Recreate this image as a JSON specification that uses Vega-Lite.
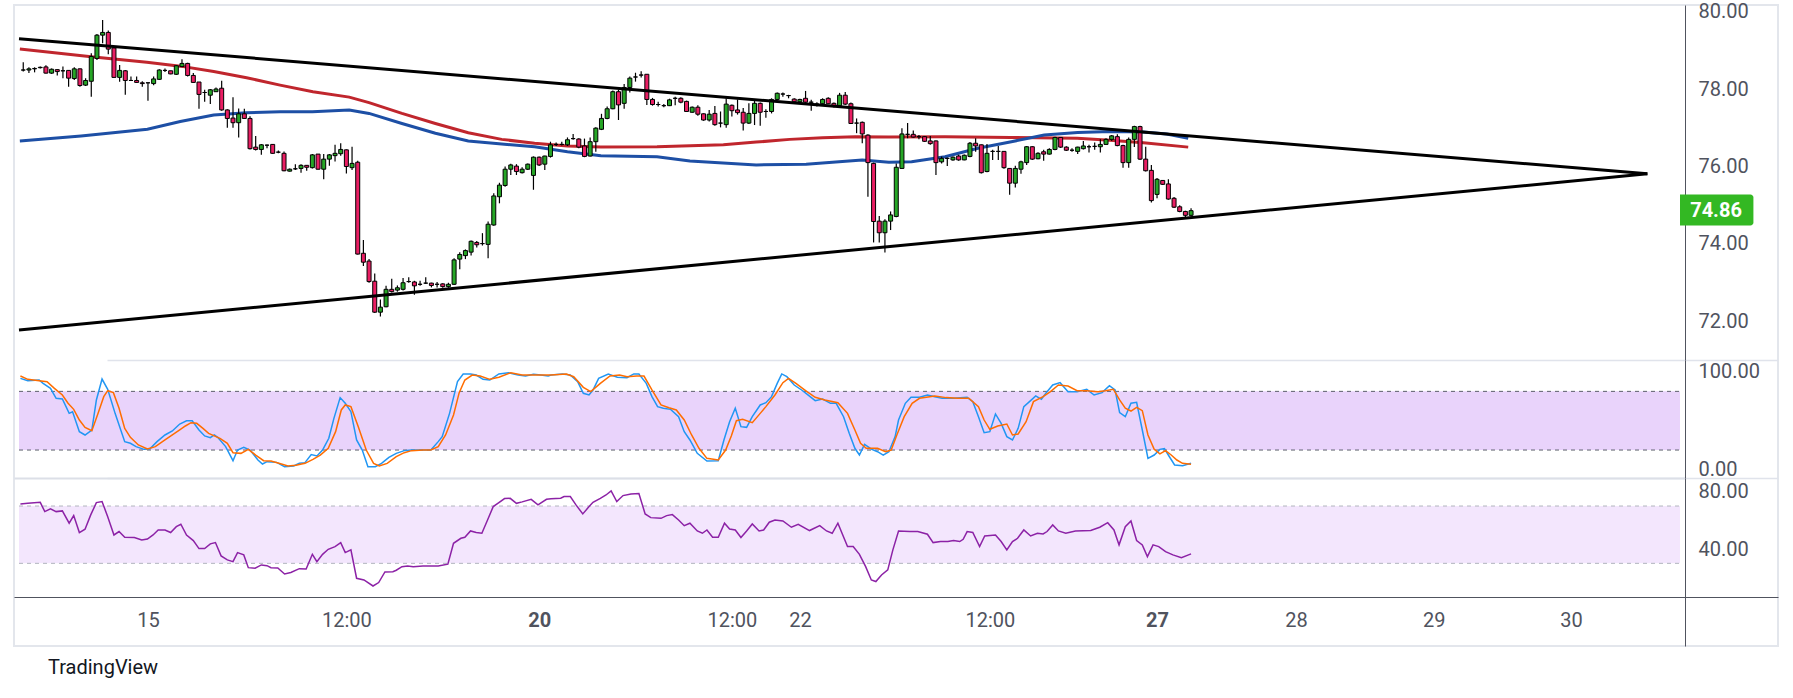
{
"$schema": "https://vega.github.io/schema/vega-lite/v6.json",
"width": 1764, "height": 641,
"autosize": {"type": "none"},
"padding": {"left": 14, "top": 5, "right": 15, "bottom": 52},
"background": "#ffffff",
"title": {"text": "TradingView", "orient": "bottom", "anchor": "start", "frame": "group", "offset": 12, "dx": 34, "font": "Roboto", "fontSize": 20, "fontWeight": "normal", "color": "#131722", "baseline": "top"},
"config": {"view": {"stroke": "#e3e6ec", "strokeWidth": 2}, "axis": {"labelFont": "Roboto", "labelFontSize": 20, "labelColor": "#50535e"}},
"datasets": {
"candles": [
{"i":0,"o":78.49,"h":78.69,"l":78.45,"c":78.49},{"i":1,"o":78.49,"h":78.56,"l":78.41,"c":78.52},{"i":2,"o":78.52,"h":78.56,"l":78.43,"c":78.53},{"i":3,"o":78.55,"h":78.58,"l":78.53,"c":78.56},{"i":4,"o":78.57,"h":78.61,"l":78.40,"c":78.41},{"i":5,"o":78.41,"h":78.53,"l":78.39,"c":78.51},{"i":6,"o":78.50,"h":78.51,"l":78.35,"c":78.45},{"i":7,"o":78.47,"h":78.58,"l":78.28,"c":78.47},{"i":8,"o":78.48,"h":78.48,"l":78.06,"c":78.28},{"i":9,"o":78.27,"h":78.56,"l":78.23,"c":78.52},
{"i":10,"o":78.52,"h":78.53,"l":78.06,"c":78.09},{"i":11,"o":78.10,"h":78.28,"l":78.08,"c":78.22},{"i":12,"o":78.20,"h":78.92,"l":77.80,"c":78.84},{"i":13,"o":78.79,"h":79.42,"l":78.75,"c":79.39},{"i":14,"o":79.39,"h":79.78,"l":79.18,"c":79.46},{"i":15,"o":79.46,"h":79.51,"l":78.90,"c":79.03},{"i":16,"o":79.06,"h":79.06,"l":78.29,"c":78.30},{"i":17,"o":78.30,"h":78.62,"l":78.19,"c":78.48},{"i":18,"o":78.47,"h":78.49,"l":77.85,"c":78.22},{"i":19,"o":78.22,"h":78.32,"l":78.21,"c":78.22},
{"i":20,"o":78.22,"h":78.32,"l":78.16,"c":78.17},{"i":21,"o":78.16,"h":78.20,"l":78.06,"c":78.14},{"i":22,"o":78.16,"h":78.16,"l":77.70,"c":78.16},{"i":23,"o":78.14,"h":78.32,"l":78.10,"c":78.26},{"i":24,"o":78.25,"h":78.51,"l":78.23,"c":78.49},{"i":25,"o":78.48,"h":78.53,"l":78.44,"c":78.48},{"i":26,"o":78.47,"h":78.47,"l":78.38,"c":78.39},{"i":27,"o":78.38,"h":78.62,"l":78.36,"c":78.60},{"i":28,"o":78.58,"h":78.77,"l":78.56,"c":78.66},{"i":29,"o":78.66,"h":78.68,"l":78.32,"c":78.35},
{"i":30,"o":78.35,"h":78.41,"l":78.16,"c":78.17},{"i":31,"o":78.18,"h":78.18,"l":77.49,"c":77.86},{"i":32,"o":77.91,"h":77.98,"l":77.67,"c":77.91},{"i":33,"o":77.84,"h":78.00,"l":77.61,"c":77.98},{"i":34,"o":77.93,"h":78.04,"l":77.92,"c":78.00},{"i":35,"o":78.02,"h":78.21,"l":77.44,"c":77.46},{"i":36,"o":77.46,"h":77.48,"l":77.00,"c":77.24},{"i":37,"o":77.25,"h":77.79,"l":77.00,"c":77.13},{"i":38,"o":77.13,"h":77.50,"l":76.75,"c":77.36},{"i":39,"o":77.36,"h":77.49,"l":77.23,"c":77.24},
{"i":40,"o":77.24,"h":77.30,"l":76.44,"c":76.46},{"i":41,"o":76.50,"h":76.79,"l":76.41,"c":76.44},{"i":42,"o":76.44,"h":76.58,"l":76.30,"c":76.56},{"i":43,"o":76.55,"h":76.57,"l":76.47,"c":76.55},{"i":44,"o":76.57,"h":76.58,"l":76.33,"c":76.34},{"i":45,"o":76.37,"h":76.41,"l":76.34,"c":76.37},{"i":46,"o":76.34,"h":76.39,"l":75.88,"c":75.89},{"i":47,"o":75.88,"h":75.95,"l":75.87,"c":75.93},{"i":48,"o":75.94,"h":76.06,"l":75.91,"c":75.94},{"i":49,"o":75.95,"h":76.06,"l":75.84,"c":76.03},
{"i":50,"o":76.03,"h":76.04,"l":75.89,"c":75.98},{"i":51,"o":75.97,"h":76.32,"l":75.95,"c":76.30},{"i":52,"o":76.32,"h":76.32,"l":75.92,"c":75.93},{"i":53,"o":75.93,"h":76.32,"l":75.67,"c":76.19},{"i":54,"o":76.19,"h":76.32,"l":76.02,"c":76.30},{"i":55,"o":76.28,"h":76.56,"l":76.13,"c":76.34},{"i":56,"o":76.33,"h":76.60,"l":76.28,"c":76.44},{"i":57,"o":76.43,"h":76.44,"l":75.82,"c":76.00},{"i":58,"o":75.97,"h":76.51,"l":75.91,"c":76.08},{"i":59,"o":76.11,"h":76.15,"l":73.73,"c":73.74},
{"i":60,"o":73.76,"h":74.10,"l":73.43,"c":73.53},{"i":61,"o":73.56,"h":73.61,"l":73.00,"c":73.03},{"i":62,"o":73.04,"h":73.24,"l":72.22,"c":72.24},{"i":63,"o":72.24,"h":72.57,"l":72.13,"c":72.37},{"i":64,"o":72.38,"h":72.92,"l":72.37,"c":72.83},{"i":65,"o":72.83,"h":73.10,"l":72.75,"c":72.77},{"i":66,"o":72.81,"h":72.93,"l":72.77,"c":72.87},{"i":67,"o":72.83,"h":73.12,"l":72.80,"c":73.00},{"i":68,"o":73.03,"h":73.14,"l":73.00,"c":73.03},{"i":69,"o":73.02,"h":73.05,"l":72.69,"c":72.92},
{"i":70,"o":72.96,"h":73.05,"l":72.92,"c":72.96},{"i":71,"o":72.99,"h":73.14,"l":72.97,"c":72.99},{"i":72,"o":72.99,"h":73.00,"l":72.88,"c":72.93},{"i":73,"o":72.96,"h":73.02,"l":72.88,"c":72.96},{"i":74,"o":72.97,"h":72.99,"l":72.87,"c":72.90},{"i":75,"o":72.90,"h":73.00,"l":72.87,"c":72.96},{"i":76,"o":72.96,"h":73.63,"l":72.94,"c":73.59},{"i":77,"o":73.61,"h":73.79,"l":73.35,"c":73.73},{"i":78,"o":73.70,"h":73.86,"l":73.61,"c":73.83},{"i":79,"o":73.79,"h":74.09,"l":73.70,"c":74.07},
{"i":80,"o":74.04,"h":74.08,"l":73.91,"c":73.98},{"i":81,"o":74.01,"h":74.28,"l":73.96,"c":74.01},{"i":82,"o":73.99,"h":74.58,"l":73.63,"c":74.51},{"i":83,"o":74.49,"h":75.31,"l":74.47,"c":75.24},{"i":84,"o":75.22,"h":75.58,"l":75.05,"c":75.52},{"i":85,"o":75.51,"h":76.00,"l":75.48,"c":75.93},{"i":86,"o":75.93,"h":76.07,"l":75.78,"c":76.04},{"i":87,"o":76.01,"h":76.06,"l":75.78,"c":75.87},{"i":88,"o":75.84,"h":75.98,"l":75.82,"c":75.93},{"i":89,"o":75.93,"h":76.08,"l":75.91,"c":76.06},
{"i":90,"o":75.77,"h":76.26,"l":75.40,"c":76.24},{"i":91,"o":76.24,"h":76.26,"l":76.01,"c":76.04},{"i":92,"o":76.06,"h":76.28,"l":75.91,"c":76.27},{"i":93,"o":76.26,"h":76.64,"l":76.23,"c":76.56},{"i":94,"o":76.57,"h":76.62,"l":76.53,"c":76.57},{"i":95,"o":76.57,"h":76.64,"l":76.54,"c":76.57},{"i":96,"o":76.56,"h":76.75,"l":76.53,"c":76.69},{"i":97,"o":76.72,"h":76.84,"l":76.69,"c":76.72},{"i":98,"o":76.71,"h":76.73,"l":76.47,"c":76.50},{"i":99,"o":76.53,"h":76.72,"l":76.24,"c":76.26},
{"i":100,"o":76.27,"h":76.75,"l":76.26,"c":76.64},{"i":101,"o":76.64,"h":77.01,"l":76.38,"c":76.99},{"i":102,"o":76.96,"h":77.36,"l":76.94,"c":77.24},{"i":103,"o":77.24,"h":77.55,"l":77.22,"c":77.49},{"i":104,"o":77.49,"h":77.96,"l":77.48,"c":77.93},{"i":105,"o":77.93,"h":77.98,"l":77.20,"c":77.59},{"i":106,"o":77.63,"h":78.13,"l":77.49,"c":78.04},{"i":107,"o":78.04,"h":78.32,"l":77.91,"c":78.28},{"i":108,"o":78.31,"h":78.42,"l":78.19,"c":78.31},{"i":109,"o":78.36,"h":78.46,"l":78.30,"c":78.36},
{"i":110,"o":78.38,"h":78.38,"l":77.59,"c":77.73},{"i":111,"o":77.73,"h":77.77,"l":77.57,"c":77.60},{"i":112,"o":77.60,"h":77.67,"l":77.55,"c":77.60},{"i":113,"o":77.57,"h":77.61,"l":77.53,"c":77.57},{"i":114,"o":77.57,"h":77.75,"l":77.56,"c":77.72},{"i":115,"o":77.76,"h":77.80,"l":77.58,"c":77.76},{"i":116,"o":77.76,"h":77.79,"l":77.63,"c":77.66},{"i":117,"o":77.68,"h":77.70,"l":77.41,"c":77.42},{"i":118,"o":77.40,"h":77.55,"l":77.39,"c":77.53},{"i":119,"o":77.53,"h":77.58,"l":77.31,"c":77.35},
{"i":120,"o":77.36,"h":77.37,"l":77.18,"c":77.20},{"i":121,"o":77.20,"h":77.46,"l":77.16,"c":77.35},{"i":122,"o":77.37,"h":77.56,"l":77.05,"c":77.08},{"i":123,"o":77.12,"h":77.42,"l":77.01,"c":77.12},{"i":124,"o":77.08,"h":77.76,"l":77.00,"c":77.61},{"i":125,"o":77.58,"h":77.60,"l":77.29,"c":77.44},{"i":126,"o":77.46,"h":77.73,"l":77.34,"c":77.39},{"i":127,"o":77.40,"h":77.51,"l":76.93,"c":77.12},{"i":128,"o":77.12,"h":77.63,"l":77.10,"c":77.37},{"i":129,"o":77.37,"h":77.70,"l":77.07,"c":77.63},
{"i":130,"o":77.63,"h":77.65,"l":77.05,"c":77.40},{"i":131,"o":77.42,"h":77.48,"l":77.26,"c":77.42},{"i":132,"o":77.42,"h":77.76,"l":77.37,"c":77.73},{"i":133,"o":77.73,"h":77.91,"l":77.72,"c":77.89},{"i":134,"o":77.87,"h":77.91,"l":77.80,"c":77.87},{"i":135,"o":77.83,"h":77.85,"l":77.76,"c":77.83},{"i":136,"o":77.74,"h":77.76,"l":77.65,"c":77.67},{"i":137,"o":77.67,"h":77.75,"l":77.65,"c":77.73},{"i":138,"o":77.76,"h":77.95,"l":77.64,"c":77.66},{"i":139,"o":77.66,"h":77.72,"l":77.44,"c":77.66},
{"i":140,"o":77.61,"h":77.66,"l":77.55,"c":77.61},{"i":141,"o":77.62,"h":77.76,"l":77.60,"c":77.73},{"i":142,"o":77.76,"h":77.79,"l":77.61,"c":77.62},{"i":143,"o":77.63,"h":77.65,"l":77.52,"c":77.56},{"i":144,"o":77.57,"h":77.90,"l":77.55,"c":77.84},{"i":145,"o":77.84,"h":77.92,"l":77.59,"c":77.61},{"i":146,"o":77.62,"h":77.65,"l":77.10,"c":77.11},{"i":147,"o":77.12,"h":77.24,"l":76.86,"c":77.12},{"i":148,"o":77.14,"h":77.16,"l":76.60,"c":76.84},{"i":149,"o":76.81,"h":76.83,"l":75.22,"c":76.10},
{"i":150,"o":76.08,"h":76.10,"l":74.04,"c":74.58},{"i":151,"o":74.59,"h":74.72,"l":74.04,"c":74.29},{"i":152,"o":74.29,"h":74.64,"l":73.78,"c":74.59},{"i":153,"o":74.59,"h":74.84,"l":74.36,"c":74.75},{"i":154,"o":74.71,"h":76.08,"l":74.69,"c":75.98},{"i":155,"o":75.95,"h":76.99,"l":75.94,"c":76.84},{"i":156,"o":76.83,"h":77.12,"l":76.73,"c":76.83},{"i":157,"o":76.83,"h":76.93,"l":76.75,"c":76.76},{"i":158,"o":76.77,"h":76.81,"l":76.70,"c":76.77},{"i":159,"o":76.77,"h":76.79,"l":76.63,"c":76.65},
{"i":160,"o":76.66,"h":76.79,"l":76.56,"c":76.59},{"i":161,"o":76.66,"h":76.67,"l":75.78,"c":76.10},{"i":162,"o":76.12,"h":76.26,"l":76.08,"c":76.21},{"i":163,"o":76.21,"h":76.23,"l":76.01,"c":76.21},{"i":164,"o":76.17,"h":76.26,"l":76.15,"c":76.24},{"i":165,"o":76.27,"h":76.30,"l":76.15,"c":76.17},{"i":166,"o":76.17,"h":76.31,"l":76.16,"c":76.29},{"i":167,"o":76.26,"h":76.63,"l":76.24,"c":76.60},{"i":168,"o":76.60,"h":76.73,"l":76.38,"c":76.53},{"i":169,"o":76.56,"h":76.57,"l":75.82,"c":75.84},
{"i":170,"o":75.87,"h":76.58,"l":75.85,"c":76.34},{"i":171,"o":76.39,"h":76.43,"l":76.17,"c":76.39},{"i":172,"o":76.39,"h":76.53,"l":76.17,"c":76.39},{"i":173,"o":76.39,"h":76.40,"l":75.94,"c":75.97},{"i":174,"o":75.95,"h":75.96,"l":75.27,"c":75.57},{"i":175,"o":75.57,"h":76.02,"l":75.46,"c":75.95},{"i":176,"o":75.93,"h":76.15,"l":75.81,"c":76.12},{"i":177,"o":76.10,"h":76.53,"l":76.04,"c":76.51},{"i":178,"o":76.51,"h":76.52,"l":76.17,"c":76.19},{"i":179,"o":76.20,"h":76.37,"l":76.19,"c":76.34},
{"i":180,"o":76.38,"h":76.43,"l":76.15,"c":76.32},{"i":181,"o":76.32,"h":76.47,"l":76.31,"c":76.44},{"i":182,"o":76.44,"h":76.77,"l":76.42,"c":76.75},{"i":183,"o":76.75,"h":76.75,"l":76.48,"c":76.50},{"i":184,"o":76.50,"h":76.52,"l":76.40,"c":76.42},{"i":185,"o":76.42,"h":76.47,"l":76.38,"c":76.42},{"i":186,"o":76.39,"h":76.51,"l":76.32,"c":76.50},{"i":187,"o":76.46,"h":76.66,"l":76.44,"c":76.53},{"i":188,"o":76.51,"h":76.56,"l":76.36,"c":76.51},{"i":189,"o":76.52,"h":76.62,"l":76.43,"c":76.52},
{"i":190,"o":76.51,"h":76.70,"l":76.36,"c":76.57},{"i":191,"o":76.57,"h":76.73,"l":76.56,"c":76.70},{"i":192,"o":76.70,"h":76.81,"l":76.66,"c":76.79},{"i":193,"o":76.77,"h":76.83,"l":76.52,"c":76.54},{"i":194,"o":76.54,"h":76.56,"l":75.97,"c":76.10},{"i":195,"o":76.10,"h":76.75,"l":75.97,"c":76.70},{"i":196,"o":76.70,"h":77.05,"l":76.50,"c":77.03},{"i":197,"o":77.03,"h":77.05,"l":76.17,"c":76.19},{"i":198,"o":76.19,"h":76.51,"l":75.87,"c":75.89},{"i":199,"o":75.90,"h":76.04,"l":75.07,"c":75.12},
{"i":200,"o":75.28,"h":75.70,"l":75.18,"c":75.67},{"i":201,"o":75.64,"h":75.65,"l":75.52,"c":75.54},{"i":202,"o":75.55,"h":75.67,"l":75.14,"c":75.16},{"i":203,"o":75.18,"h":75.21,"l":74.93,"c":74.95},{"i":204,"o":74.96,"h":75.00,"l":74.82,"c":74.84},{"i":205,"o":74.84,"h":74.86,"l":74.66,"c":74.74},{"i":206,"o":74.74,"h":74.92,"l":74.72,"c":74.86}
],
"maRed": [
{"i":-0.6,"p":79.03},{"i":12.0,"p":78.83},{"i":21.8,"p":78.69},{"i":27.7,"p":78.59},{"i":33.6,"p":78.45},{"i":39.4,"p":78.29},{"i":45.3,"p":78.10},{"i":51.1,"p":77.93},{"i":57.5,"p":77.79},{"i":61.0,"p":77.65},{"i":66.8,"p":77.37},{"i":72.7,"p":77.11},{"i":78.5,"p":76.87},{"i":84.4,"p":76.70},{"i":90.2,"p":76.60},{"i":96.0,"p":76.53},{"i":101.9,"p":76.50},{"i":111.8,"p":76.51},{"i":123.5,"p":76.56},{"i":129.3,"p":76.63},{"i":135.2,"p":76.70},{"i":141.0,"p":76.74},{"i":146.8,"p":76.77},{"i":152.7,"p":76.76},{"i":162.6,"p":76.77},{"i":174.2,"p":76.75},{"i":185.9,"p":76.73},{"i":191.7,"p":76.68},{"i":197.6,"p":76.61},{"i":205.5,"p":76.50}
],
"maBlue": [
{"i":-0.6,"p":76.66},{"i":10.2,"p":76.79},{"i":21.9,"p":76.96},{"i":27.7,"p":77.16},{"i":33.6,"p":77.33},{"i":39.4,"p":77.39},{"i":45.3,"p":77.41},{"i":51.0,"p":77.41},{"i":57.5,"p":77.46},{"i":61.0,"p":77.37},{"i":66.8,"p":77.11},{"i":72.7,"p":76.86},{"i":78.5,"p":76.66},{"i":84.4,"p":76.58},{"i":90.2,"p":76.51},{"i":96.0,"p":76.38},{"i":101.9,"p":76.28},{"i":111.8,"p":76.25},{"i":117.6,"p":76.14},{"i":129.3,"p":76.04},{"i":138.1,"p":76.06},{"i":143.9,"p":76.12},{"i":148.0,"p":76.17},{"i":152.7,"p":76.11},{"i":156.7,"p":76.12},{"i":162.6,"p":76.25},{"i":168.4,"p":76.47},{"i":174.3,"p":76.64},{"i":180.1,"p":76.81},{"i":186.0,"p":76.88},{"i":191.8,"p":76.90},{"i":197.6,"p":76.89},{"i":201.7,"p":76.84},{"i":205.5,"p":76.73}
],
"trend": [
{"line":"upper","i":-0.75,"p":79.30},{"line":"upper","i":286.5,"p":75.81},{"line":"lower","i":-0.75,"p":71.78},{"line":"lower","i":286.5,"p":75.81}
],
"last": [{"price": 74.86}],
"stochBand": [{"upper": 80, "lower": 20}],
"rsiBand": [{"upper": 70, "lower": 30}],
"stochK": [
{"i":-0.5,"v":93.3},{"i":0.8,"v":90.9},{"i":2.8,"v":91.6},{"i":3.5,"v":88.2},{"i":4.8,"v":83.1},{"i":5.8,"v":72.9},{"i":6.9,"v":72.2},{"i":8.1,"v":57.5},{"i":8.7,"v":59.2},{"i":9.9,"v":38.8},{"i":10.9,"v":35.4},{"i":12.1,"v":40.5},{"i":12.9,"v":71.2},{"i":13.9,"v":92.6},{"i":14.9,"v":82.1},{"i":16.2,"v":57.5},{"i":17.9,"v":28.6},{"i":18.9,"v":26.9},{"i":19.9,"v":23.5},{"i":21.3,"v":20.7},{"i":22.3,"v":21.1},{"i":23.6,"v":28.6},{"i":25.0,"v":35.4},{"i":26.3,"v":39.5},{"i":27.6,"v":46.6},{"i":28.8,"v":50.0},{"i":29.8,"v":50.0},{"i":31.0,"v":40.5},{"i":32.0,"v":34.4},{"i":33.0,"v":32.7},{"i":33.7,"v":35.4},{"i":34.3,"v":33.0},{"i":35.7,"v":23.5},{"i":37.0,"v":9.1},{"i":37.8,"v":20.0},{"i":38.9,"v":22.8},{"i":40.0,"v":20.0},{"i":41.4,"v":9.8},{"i":42.2,"v":5.7},{"i":43.0,"v":8.1},{"i":44.7,"v":7.4},{"i":46.1,"v":3.0},{"i":47.7,"v":3.7},{"i":48.7,"v":6.4},{"i":49.7,"v":7.1},{"i":50.8,"v":15.3},{"i":51.8,"v":13.9},{"i":52.8,"v":20.0},{"i":53.9,"v":32.0},{"i":54.8,"v":52.4},{"i":55.9,"v":73.6},{"i":56.8,"v":67.8},{"i":57.8,"v":59.2},{"i":58.8,"v":30.3},{"i":59.8,"v":20.0},{"i":60.8,"v":3.0},{"i":62.1,"v":3.0},{"i":63.2,"v":6.4},{"i":64.5,"v":12.5},{"i":65.8,"v":16.6},{"i":67.2,"v":19.4},{"i":68.5,"v":20.0},{"i":70.5,"v":20.0},{"i":71.9,"v":20.0},{"i":73.2,"v":28.6},{"i":73.9,"v":33.7},{"i":75.2,"v":57.5},{"i":76.6,"v":89.9},{"i":77.6,"v":97.8},{"i":78.9,"v":97.8},{"i":79.9,"v":96.7},{"i":81.1,"v":92.3},{"i":82.3,"v":91.6},{"i":83.9,"v":97.8},{"i":85.6,"v":99.1},{"i":87.3,"v":96.7},{"i":88.6,"v":95.7},{"i":90.0,"v":97.4},{"i":91.3,"v":96.7},{"i":92.6,"v":95.7},
{"i":93.1,"v":96.7},{"i":95.1,"v":97.8},{"i":96.5,"v":96.7},{"i":97.8,"v":89.9},{"i":98.8,"v":78.0},{"i":99.8,"v":76.3},{"i":100.5,"v":81.4},{"i":101.5,"v":93.3},{"i":103.2,"v":97.8},{"i":104.8,"v":94.4},{"i":106.5,"v":94.0},{"i":107.7,"v":97.8},{"i":108.6,"v":97.8},{"i":109.9,"v":88.2},{"i":110.9,"v":74.6},{"i":111.9,"v":64.4},{"i":112.9,"v":62.7},{"i":114.2,"v":61.6},{"i":115.6,"v":54.1},{"i":116.6,"v":38.8},{"i":117.6,"v":30.3},{"i":118.9,"v":16.6},{"i":120.6,"v":8.8},{"i":122.6,"v":9.1},{"i":123.6,"v":30.3},{"i":124.6,"v":49.0},{"i":125.6,"v":62.7},{"i":126.6,"v":43.9},{"i":127.6,"v":43.2},{"i":128.6,"v":54.1},{"i":130.0,"v":66.1},{"i":131.0,"v":68.4},{"i":132.0,"v":74.6},{"i":133.0,"v":88.2},{"i":133.8,"v":97.8},{"i":134.7,"v":95.0},{"i":136.0,"v":86.5},{"i":137.3,"v":81.4},{"i":138.3,"v":77.0},{"i":139.7,"v":70.5},{"i":141.0,"v":72.2},{"i":142.4,"v":67.8},{"i":143.4,"v":67.8},{"i":144.7,"v":54.1},{"i":145.7,"v":37.1},{"i":146.7,"v":21.8},{"i":147.5,"v":14.9},{"i":148.4,"v":25.8},{"i":149.7,"v":20.7},{"i":150.7,"v":18.3},{"i":151.7,"v":14.9},{"i":152.7,"v":18.3},{"i":153.8,"v":33.7},{"i":154.4,"v":50.7},{"i":155.6,"v":67.8},{"i":156.6,"v":73.9},{"i":158.1,"v":73.9},{"i":159.5,"v":76.3},{"i":160.8,"v":74.6},{"i":162.1,"v":72.9},{"i":164.1,"v":72.9},{"i":166.5,"v":73.9},{"i":167.5,"v":69.5},{"i":168.5,"v":54.1},{"i":169.5,"v":37.8},{"i":170.5,"v":38.8},{"i":171.5,"v":56.9},{"i":172.5,"v":47.3},{"i":173.5,"v":33.7},{"i":174.5,"v":30.3},{"i":175.5,"v":42.2},{"i":176.5,"v":64.4},{"i":177.5,"v":69.5},{"i":178.6,"v":75.3},{"i":179.6,"v":71.9},{"i":180.6,"v":79.7},{"i":181.6,"v":86.5},{"i":182.9,"v":88.9},{"i":184.3,"v":79.7},{"i":185.9,"v":79.7},{"i":187.6,"v":82.1},{"i":188.9,"v":76.3},{"i":190.3,"v":78.7},{"i":191.6,"v":85.8},{"i":192.6,"v":81.4},
{"i":193.4,"v":58.2},{"i":194.4,"v":54.1},{"i":195.4,"v":67.8},{"i":196.4,"v":68.8},{"i":197.4,"v":40.5},{"i":198.4,"v":11.5},{"i":199.5,"v":14.9},{"i":200.5,"v":20.7},{"i":201.3,"v":21.4},{"i":202.1,"v":13.9},{"i":203.1,"v":4.7},{"i":204.5,"v":4.0},{"i":206,"v":6.4}
],
"stochD": [
{"i":-0.5,"v":95.7},{"i":0.8,"v":92.3},{"i":2.8,"v":90.9},{"i":4.2,"v":89.9},{"i":5.5,"v":83.1},{"i":6.9,"v":76.3},{"i":7.9,"v":67.8},{"i":8.9,"v":61.6},{"i":9.9,"v":50.7},{"i":10.9,"v":43.2},{"i":12.1,"v":39.8},{"i":13.2,"v":57.5},{"i":14.2,"v":74.6},{"i":14.9,"v":80.7},{"i":15.9,"v":78.7},{"i":16.9,"v":62.7},{"i":17.9,"v":42.2},{"i":18.9,"v":33.0},{"i":20.3,"v":25.2},{"i":21.9,"v":21.1},{"i":23.3,"v":23.5},{"i":25.0,"v":30.3},{"i":26.3,"v":35.4},{"i":27.6,"v":40.5},{"i":28.6,"v":44.6},{"i":29.6,"v":48.0},{"i":30.6,"v":47.3},{"i":31.7,"v":42.2},{"i":32.7,"v":37.1},{"i":33.5,"v":35.0},{"i":34.7,"v":32.0},{"i":36.0,"v":26.9},{"i":37.0,"v":17.3},{"i":38.4,"v":16.6},{"i":39.7,"v":20.7},{"i":41.0,"v":14.9},{"i":42.4,"v":9.1},{"i":43.7,"v":8.8},{"i":45.1,"v":6.4},{"i":46.7,"v":3.7},{"i":48.1,"v":4.4},{"i":49.7,"v":6.4},{"i":51.1,"v":10.5},{"i":52.4,"v":14.9},{"i":53.8,"v":21.8},{"i":55.1,"v":38.8},{"i":56.1,"v":61.0},{"i":56.8,"v":66.1},{"i":57.8,"v":64.4},{"i":59.1,"v":43.9},{"i":60.5,"v":20.0},{"i":61.8,"v":6.4},{"i":62.8,"v":3.7},{"i":64.2,"v":6.4},{"i":65.8,"v":13.2},{"i":67.2,"v":17.3},{"i":68.5,"v":19.4},{"i":70.5,"v":20.0},{"i":71.9,"v":20.0},{"i":73.2,"v":23.5},{"i":74.5,"v":35.4},{"i":75.9,"v":55.8},{"i":76.9,"v":78.7},{"i":77.9,"v":91.6},{"i":79.2,"v":96.7},{"i":80.6,"v":95.7},{"i":82.3,"v":92.3},{"i":83.9,"v":94.4},{"i":86.0,"v":99.1},{"i":88.0,"v":96.7},{"i":90.0,"v":96.7},{"i":92.0,"v":96.7},
{"i":93.1,"v":96.7},{"i":95.8,"v":97.8},{"i":97.1,"v":95.0},{"i":98.8,"v":84.1},{"i":100.1,"v":79.7},{"i":101.8,"v":88.2},{"i":103.5,"v":95.7},{"i":105.2,"v":96.7},{"i":106.5,"v":95.0},{"i":108.2,"v":95.7},{"i":109.5,"v":95.7},{"i":110.9,"v":81.4},{"i":112.5,"v":66.1},{"i":113.9,"v":63.3},{"i":115.2,"v":61.0},{"i":116.6,"v":50.7},{"i":117.9,"v":35.4},{"i":119.2,"v":21.8},{"i":120.6,"v":11.5},{"i":122.6,"v":9.8},{"i":123.9,"v":20.0},{"i":124.9,"v":34.4},{"i":125.8,"v":50.0},{"i":126.9,"v":51.4},{"i":128.6,"v":48.0},{"i":130.0,"v":57.5},{"i":131.0,"v":64.4},{"i":132.6,"v":76.3},{"i":134.0,"v":88.9},{"i":135.0,"v":93.3},{"i":136.3,"v":88.2},{"i":138.0,"v":80.7},{"i":139.7,"v":73.9},{"i":141.4,"v":71.2},{"i":143.7,"v":68.4},{"i":145.4,"v":57.5},{"i":146.7,"v":40.5},{"i":147.7,"v":26.9},{"i":148.7,"v":21.8},{"i":150.7,"v":21.8},{"i":152.1,"v":18.3},{"i":153.1,"v":20.0},{"i":154.1,"v":35.4},{"i":155.4,"v":54.1},{"i":156.8,"v":67.8},{"i":158.1,"v":72.9},{"i":160.8,"v":75.3},{"i":162.8,"v":73.6},{"i":164.8,"v":72.9},{"i":166.8,"v":72.9},{"i":168.5,"v":64.4},{"i":169.5,"v":50.7},{"i":170.5,"v":41.2},{"i":171.9,"v":44.6},{"i":173.5,"v":46.6},{"i":174.5,"v":35.4},{"i":175.5,"v":36.4},{"i":176.9,"v":49.0},{"i":178.2,"v":69.5},{"i":179.9,"v":74.6},{"i":181.2,"v":79.7},{"i":182.6,"v":86.5},{"i":184.3,"v":85.5},{"i":185.9,"v":80.7},{"i":187.6,"v":80.7},{"i":189.6,"v":79.7},{"i":190.9,"v":80.7},{"i":192.3,"v":82.1},
{"i":193.4,"v":71.2},{"i":194.4,"v":62.7},{"i":195.4,"v":59.9},{"i":196.4,"v":63.7},{"i":197.4,"v":60.3},{"i":198.4,"v":35.4},{"i":199.5,"v":20.7},{"i":200.5,"v":16.0},{"i":201.5,"v":19.4},{"i":202.5,"v":14.9},{"i":203.5,"v":9.8},{"i":204.5,"v":6.4},{"i":206,"v":5.4}
],
"rsi": [
{"i":-0.5,"v":71.5},{"i":0.8,"v":71.9},{"i":3.0,"v":72.6},{"i":3.8,"v":66.1},{"i":4.8,"v":68.0},{"i":5.8,"v":66.1},{"i":6.9,"v":66.6},{"i":8.1,"v":58.0},{"i":8.9,"v":63.3},{"i":9.9,"v":51.5},{"i":10.9,"v":53.8},{"i":11.9,"v":63.8},{"i":12.9,"v":72.4},{"i":13.9,"v":73.1},{"i":14.9,"v":62.6},{"i":16.0,"v":49.8},{"i":16.9,"v":52.2},{"i":17.9,"v":48.2},{"i":19.6,"v":48.0},{"i":20.9,"v":46.3},{"i":21.9,"v":47.0},{"i":22.9,"v":49.8},{"i":23.8,"v":53.3},{"i":25.0,"v":53.3},{"i":26.0,"v":51.5},{"i":27.0,"v":55.6},{"i":27.8,"v":57.3},{"i":28.8,"v":49.8},{"i":30.0,"v":45.9},{"i":31.0,"v":40.3},{"i":32.0,"v":40.3},{"i":33.0,"v":43.6},{"i":33.9,"v":44.5},{"i":34.9,"v":35.2},{"i":36.0,"v":32.4},{"i":37.0,"v":31.2},{"i":37.8,"v":37.5},{"i":38.9,"v":35.9},{"i":39.7,"v":27.0},{"i":40.9,"v":26.6},{"i":42.0,"v":28.9},{"i":43.0,"v":28.4},{"i":43.7,"v":27.0},{"i":44.9,"v":26.8},{"i":46.1,"v":22.6},{"i":47.2,"v":23.6},{"i":48.7,"v":26.3},{"i":49.9,"v":26.1},{"i":51.0,"v":36.3},{"i":51.8,"v":31.2},{"i":52.8,"v":36.3},{"i":53.8,"v":39.8},{"i":55.0,"v":41.7},{"i":56.0,"v":44.5},{"i":56.8,"v":37.5},{"i":57.8,"v":39.4},{"i":58.8,"v":19.6},{"i":60.1,"v":18.4},{"i":61.7,"v":14.2},{"i":62.7,"v":16.6},{"i":63.8,"v":24.0},{"i":65.2,"v":24.2},{"i":65.8,"v":25.2},{"i":66.8,"v":27.7},{"i":67.8,"v":28.2},{"i":68.8,"v":27.7},{"i":70.5,"v":28.2},{"i":73.2,"v":28.2},{"i":74.9,"v":29.4},{"i":75.9,"v":44.0},{"i":77.2,"v":47.5},{"i":77.9,"v":48.2},{"i":78.9,"v":52.6},{"i":79.9,"v":51.5},{"i":80.9,"v":51.0},{"i":81.9,"v":60.3},{"i":82.9,"v":69.6},{"i":83.9,"v":72.4},{"i":84.9,"v":75.2},{"i":85.9,"v":75.4},{"i":87.0,"v":71.9},{"i":88.0,"v":72.9},{"i":89.6,"v":74.7},{"i":90.8,"v":70.8},{"i":92.3,"v":74.7},
{"i":93.1,"v":75.0},{"i":94.8,"v":75.4},{"i":95.4,"v":76.6},{"i":96.5,"v":76.6},{"i":97.5,"v":70.8},{"i":98.7,"v":64.5},{"i":99.7,"v":69.1},{"i":100.5,"v":72.6},{"i":101.8,"v":75.4},{"i":102.8,"v":77.7},{"i":103.7,"v":80.5},{"i":104.7,"v":73.1},{"i":105.8,"v":77.3},{"i":107.2,"v":78.4},{"i":108.6,"v":78.7},{"i":109.7,"v":64.5},{"i":110.7,"v":61.9},{"i":112.5,"v":61.4},{"i":113.5,"v":63.3},{"i":114.5,"v":64.0},{"i":115.6,"v":60.3},{"i":116.6,"v":56.3},{"i":117.6,"v":58.0},{"i":118.9,"v":52.6},{"i":119.8,"v":51.0},{"i":120.6,"v":53.3},{"i":121.6,"v":48.2},{"i":122.6,"v":48.2},{"i":123.7,"v":58.0},{"i":124.6,"v":54.0},{"i":125.6,"v":53.3},{"i":126.6,"v":48.0},{"i":127.6,"v":52.6},{"i":128.6,"v":57.5},{"i":129.8,"v":52.6},{"i":130.6,"v":53.3},{"i":131.6,"v":58.7},{"i":132.6,"v":60.3},{"i":134.0,"v":59.6},{"i":135.5,"v":55.2},{"i":136.7,"v":57.3},{"i":138.7,"v":52.9},{"i":140.5,"v":56.3},{"i":141.7,"v":52.6},{"i":142.7,"v":51.0},{"i":143.7,"v":58.0},{"i":145.4,"v":41.7},{"i":146.4,"v":41.7},{"i":147.5,"v":36.3},{"i":148.6,"v":27.7},{"i":149.6,"v":18.4},{"i":150.4,"v":17.3},{"i":151.4,"v":21.9},{"i":152.5,"v":25.4},{"i":153.4,"v":39.4},{"i":154.4,"v":52.6},{"i":156.4,"v":52.2},{"i":157.8,"v":52.2},{"i":159.5,"v":50.3},{"i":160.5,"v":44.5},{"i":161.8,"v":45.2},{"i":163.1,"v":45.2},{"i":164.1,"v":45.9},{"i":165.2,"v":45.2},{"i":165.8,"v":46.8},{"i":166.5,"v":52.2},{"i":167.5,"v":51.5},{"i":168.7,"v":41.7},{"i":169.6,"v":49.1},{"i":171.5,"v":49.8},{"i":172.5,"v":45.2},{"i":173.5,"v":39.4},{"i":174.5,"v":45.2},{"i":175.4,"v":47.5},{"i":176.5,"v":53.3},{"i":177.7,"v":49.1},{"i":178.9,"v":51.0},{"i":179.9,"v":50.5},{"i":180.6,"v":52.2},{"i":181.6,"v":56.8},{"i":182.6,"v":52.6},{"i":183.9,"v":51.0},{"i":185.6,"v":52.6},{"i":188.3,"v":52.9},{"i":189.9,"v":55.2},{"i":191.3,"v":58.4},{"i":192.4,"v":53.3},
{"i":193.3,"v":42.9},{"i":194.4,"v":55.6},{"i":195.4,"v":59.6},{"i":196.4,"v":45.9},{"i":197.4,"v":42.9},{"i":198.3,"v":34.7},{"i":199.3,"v":42.9},{"i":200.3,"v":41.7},{"i":201.5,"v":38.2},{"i":202.8,"v":35.9},{"i":204.3,"v":34.0},{"i":206,"v":36.6}
]
},
"layer": [
{"data": {"name": "maRed"}, "mark": {"type": "line", "stroke": "#c0262d", "strokeWidth": 3},
 "encoding": {
  "x": {"field": "i", "type": "quantitative", "scale": {"domain": [-0.75, 292.25], "range": [0, 1671], "nice": false, "zero": false},
   "axis": {"orient": "bottom", "offset": -49, "values": [22, 57, 91, 125, 137, 170.5, 200, 224.5, 248.8, 273],
    "labelExpr": "datum.value == 22 ? '15' : datum.value == 91 ? '20' : datum.value == 137 ? '22' : datum.value == 200 ? '27' : datum.value == 224.5 ? '28' : datum.value == 248.8 ? '29' : datum.value == 273 ? '30' : '12:00'",
    "labelFontWeight": {"condition": {"test": "datum.value == 91 || datum.value == 200", "value": "bold"}, "value": "normal"},
    "ticks": false, "tickSize": 0, "domain": true, "domainColor": "#50535e", "domainWidth": 1, "grid": false,
    "labelPadding": 23, "labelBaseline": "middle", "labelFlush": false, "labelOverlap": false, "labelBound": false, "title": null}},
  "y": {"field": "p", "type": "quantitative", "scale": {"domain": [71.006, 80.168], "range": [355, 0], "nice": false, "zero": false},
   "axis": {"orient": "right", "offset": -93, "values": [72, 74, 76, 78, 80], "format": ".2f",
    "ticks": false, "tickSize": 0, "domain": true, "domainColor": "#50535e", "domainWidth": 1, "grid": false,
    "labelPadding": 13, "labelAlign": "left", "labelBaseline": "middle", "labelFlush": false, "labelOverlap": false, "labelBound": false, "title": null}}
 }},
{"data": {"name": "maBlue"}, "mark": {"type": "line", "stroke": "#1d4fa5", "strokeWidth": 3},
 "encoding": {
  "x": {"field": "i", "type": "quantitative", "axis": null},
  "y": {"field": "p", "type": "quantitative", "scale": {"domain": [71.006, 80.168], "range": [355, 0], "nice": false, "zero": false},
   "axis": {"orient": "right", "offset": -93, "values": [71.006], "labels": false, "ticks": false, "domain": false, "grid": true, "gridColor": "#e0e3eb", "gridWidth": 1.5, "title": null}}
 }},
{"data": {"name": "candles"}, "mark": {"type": "rule", "stroke": "#000000", "strokeWidth": 1.2},
 "encoding": {
  "x": {"field": "i", "type": "quantitative", "axis": null},
  "y": {"field": "l", "type": "quantitative", "scale": {"domain": [71.006, 80.168], "range": [355, 0], "nice": false, "zero": false}, "axis": null},
  "y2": {"field": "h"}
 }},
{"data": {"name": "candles"}, "mark": {"type": "bar", "width": 4, "stroke": "#000000", "strokeWidth": 1},
 "encoding": {
  "x": {"field": "i", "type": "quantitative", "axis": null},
  "y": {"field": "o", "type": "quantitative", "scale": {"domain": [71.006, 80.168], "range": [355, 0], "nice": false, "zero": false}, "axis": null},
  "y2": {"field": "c"},
  "fill": {"condition": {"test": "datum.c >= datum.o", "value": "#26a626"}, "value": "#e91e63"}
 }},
{"data": {"name": "trend"}, "mark": {"type": "line", "stroke": "#000000", "strokeWidth": 3},
 "encoding": {
  "x": {"field": "i", "type": "quantitative", "axis": null},
  "y": {"field": "p", "type": "quantitative", "scale": {"domain": [71.006, 80.168], "range": [355, 0], "nice": false, "zero": false}, "axis": null},
  "detail": {"field": "line", "type": "nominal"}
 }},
{"data": {"name": "last"}, "mark": {"type": "bar", "height": 31, "color": "#33b823", "cornerRadiusTopRight": 3, "cornerRadiusBottomRight": 3},
 "encoding": {
  "x": {"datum": 292.25, "type": "quantitative", "axis": null},
  "x2": {"datum": 305.2},
  "y": {"field": "price", "type": "quantitative", "scale": {"domain": [71.006, 80.168], "range": [355, 0], "nice": false, "zero": false}, "axis": null}
 }},
{"data": {"name": "last"}, "mark": {"type": "text", "color": "#ffffff", "font": "Roboto", "fontSize": 20, "fontWeight": "bold", "align": "center", "baseline": "middle"},
 "encoding": {
  "x": {"datum": 298.6, "type": "quantitative", "axis": null},
  "y": {"field": "price", "type": "quantitative", "scale": {"domain": [71.006, 80.168], "range": [355, 0], "nice": false, "zero": false}, "axis": null},
  "text": {"field": "price", "type": "quantitative", "format": ".2f"}
 }},
{"data": {"name": "stochBand"}, "mark": {"type": "rect", "color": "#e9d3fb"},
 "encoding": {
  "x": {"datum": -0.75, "type": "quantitative", "axis": null},
  "x2": {"datum": 292.25},
  "y": {"field": "upper", "type": "quantitative", "scale": {"domain": [-8.59, 112.07], "range": [473, 355], "nice": false, "zero": false},
   "axis": {"orient": "right", "offset": -93, "values": [0, 100], "format": ".2f",
    "ticks": false, "tickSize": 0, "domain": true, "domainColor": "#50535e", "domainWidth": 1, "grid": false,
    "labelPadding": 13, "labelAlign": "left", "labelBaseline": "middle", "labelFlush": false, "labelOverlap": false, "labelBound": false, "title": null}},
  "y2": {"field": "lower"}
 }},
{"data": {"name": "stochBand"}, "mark": {"type": "rule", "stroke": "#5d606b", "strokeWidth": 1, "strokeDash": [4, 4]},
 "encoding": {
  "x": {"datum": -0.75, "type": "quantitative", "axis": null},
  "x2": {"datum": 292.25},
  "y": {"field": "upper", "type": "quantitative", "scale": {"domain": [-8.59, 112.07], "range": [473, 355], "nice": false, "zero": false}, "axis": null}
 }},
{"data": {"name": "stochBand"}, "mark": {"type": "rule", "stroke": "#5d606b", "strokeWidth": 1, "strokeDash": [4, 4]},
 "encoding": {
  "x": {"datum": -0.75, "type": "quantitative", "axis": null},
  "x2": {"datum": 292.25},
  "y": {"field": "lower", "type": "quantitative", "scale": {"domain": [-8.59, 112.07], "range": [473, 355], "nice": false, "zero": false}, "axis": null}
 }},
{"data": {"name": "stochK"}, "mark": {"type": "line", "stroke": "#2196f3", "strokeWidth": 1.5},
 "encoding": {
  "x": {"field": "i", "type": "quantitative",
   "axis": {"orient": "top", "offset": -473, "labels": false, "ticks": false, "domain": true, "domainColor": "#dcdfe7", "domainWidth": 2, "grid": false, "title": null}},
  "y": {"field": "v", "type": "quantitative", "scale": {"domain": [-8.59, 112.07], "range": [473, 355], "nice": false, "zero": false}, "axis": null}
 }},
{"data": {"name": "stochD"}, "mark": {"type": "line", "stroke": "#ff6d00", "strokeWidth": 1.5},
 "encoding": {
  "x": {"field": "i", "type": "quantitative", "axis": null},
  "y": {"field": "v", "type": "quantitative", "scale": {"domain": [-8.59, 112.07], "range": [473, 355], "nice": false, "zero": false}, "axis": null}
 }},
{"data": {"name": "rsiBand"}, "mark": {"type": "rect", "color": "#f3e6fd"},
 "encoding": {
  "x": {"datum": -0.75, "type": "quantitative", "axis": null},
  "x2": {"datum": 292.25},
  "y": {"field": "upper", "type": "quantitative", "scale": {"domain": [-27.67, 89.56], "range": [641, 473], "nice": false, "zero": false},
   "axis": {"orient": "right", "offset": -93, "values": [40, 80], "format": ".2f",
    "ticks": false, "tickSize": 0, "domain": true, "domainColor": "#50535e", "domainWidth": 1, "grid": false,
    "labelPadding": 13, "labelAlign": "left", "labelBaseline": "middle", "labelFlush": false, "labelOverlap": false, "labelBound": false, "title": null}},
  "y2": {"field": "lower"}
 }},
{"data": {"name": "rsiBand"}, "mark": {"type": "rule", "stroke": "#b2b5be", "strokeWidth": 1, "strokeDash": [4, 4]},
 "encoding": {
  "x": {"datum": -0.75, "type": "quantitative", "axis": null},
  "x2": {"datum": 292.25},
  "y": {"field": "upper", "type": "quantitative", "scale": {"domain": [-27.67, 89.56], "range": [641, 473], "nice": false, "zero": false},
   "axis": {"orient": "right", "offset": -93, "values": [89.56], "labels": false, "ticks": false, "domain": false, "grid": true, "gridColor": "#e0e3eb", "gridWidth": 1.5, "title": null}}
 }},
{"data": {"name": "rsiBand"}, "mark": {"type": "rule", "stroke": "#b2b5be", "strokeWidth": 1, "strokeDash": [4, 4]},
 "encoding": {
  "x": {"datum": -0.75, "type": "quantitative", "axis": null},
  "x2": {"datum": 292.25},
  "y": {"field": "lower", "type": "quantitative", "scale": {"domain": [-27.67, 89.56], "range": [641, 473], "nice": false, "zero": false},
   "axis": {"orient": "right", "offset": -93, "values": [6.52], "labels": false, "ticks": false, "domain": false, "grid": true, "gridColor": "#50535e", "gridWidth": 1, "title": null}}
 }},
{"data": {"name": "rsi"}, "mark": {"type": "line", "stroke": "#8c22a6", "strokeWidth": 1.5},
 "encoding": {
  "x": {"field": "i", "type": "quantitative", "axis": null},
  "y": {"field": "v", "type": "quantitative", "scale": {"domain": [-27.67, 89.56], "range": [641, 473], "nice": false, "zero": false}, "axis": null}
 }}
],
"resolve": {"scale": {"y": "independent"}, "axis": {"y": "independent", "x": "independent"}}
}
